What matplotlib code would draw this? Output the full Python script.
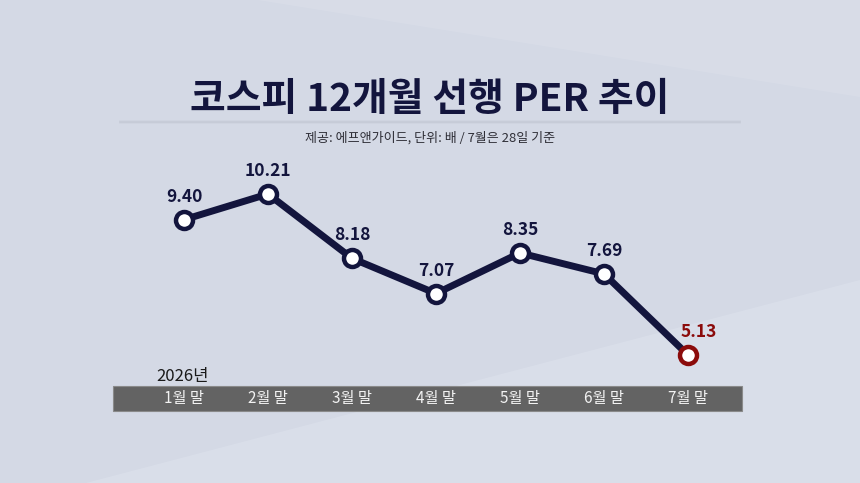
import matplotlib.pyplot as plt
from matplotlib.patches import Rectangle, Polygon

plt.rcParams['font.family'] = ['Noto Sans CJK KR', 'DejaVu Sans']

# data
months = ['1월 말', '2월 말', '3월 말', '4월 말', '5월 말', '6월 말', '7월 말']
per = [9.40, 10.21, 8.18, 7.07, 8.35, 7.69, 5.13]
year_label = '2026년'
title = '코스피 12개월 선행 PER 추이'
subtitle = '제공: 에프앤가이드, 단위: 배 / 7월은 28일 기준'

navy = '#13153d'
red = '#8b0b0b'
bg = '#d4d9e5'

fig = plt.figure(figsize=(8.6, 4.83), dpi=100)
fig.patch.set_facecolor(bg)
ax = fig.add_axes([0, 0, 1, 1])
ax.set_facecolor(bg)

# axes mapped so points land where the reference has them
x = list(range(len(months)))
ax.set_xlim(-184 / 84, 6 + 172 / 84)
ax.set_ylim(10.21 - 289 / 31.7, 10.21 + 194 / 31.7)
ax.axis('off')

# faint background streaks
ax.add_patch(Polygon([[0.3, 1.0], [1, 1.0], [1, 0.80]], closed=True,
                     transform=ax.transAxes, color='#dbdfea', alpha=0.6, lw=0, zorder=0))
ax.add_patch(Polygon([[0.1, 0.0], [1, 0.0], [1, 0.42]], closed=True,
                     transform=ax.transAxes, color='#dadfea', alpha=0.9, lw=0, zorder=0))

# title
fig.text(0.5, 1 - 100 / 483, title, ha='center', va='center', fontsize=28,
         fontweight='black', color=navy)
for k, a in enumerate([0.25, 0.5, 0.25]):
    ax.plot([0.14, 0.86], [1 - (121 + k) / 483] * 2, transform=ax.transAxes,
            color='#bcc1cd', lw=1.2, alpha=a, zorder=1)
fig.text(0.5, 1 - 138 / 483, subtitle, ha='center', va='center', fontsize=9.4,
         color='#2e2e36')

# line
ax.plot(x, per, color=navy, lw=5, zorder=3, solid_capstyle='round')
ax.scatter(x[:-1], per[:-1], s=150, facecolor='white', edgecolor=navy,
           linewidth=3.2, zorder=4)
ax.scatter(x[-1:], per[-1:], s=150, facecolor='white', edgecolor=red,
           linewidth=3.2, zorder=4)

for i, v in enumerate(per):
    if i == len(per) - 1:
        ax.annotate(f'{v:.2f}', (i, v), xytext=(8, 10), textcoords='offset points',
                    ha='center', va='bottom', fontsize=12.5, fontweight='bold', color=red)
    else:
        ax.annotate(f'{v:.2f}', (i, v), xytext=(0, 10), textcoords='offset points',
                    ha='center', va='bottom', fontsize=12.5, fontweight='bold', color=navy)

# month bar
ax.add_patch(Rectangle((113 / 860, 1 - 411 / 483), (742 - 113) / 860, 25 / 483,
                       transform=ax.transAxes, facecolor='#636363',
                       edgecolor='#8a8a8a', lw=0.8, zorder=2))
for i, m in enumerate(months):
    ax.text(i, 1 - 399 / 483, m, transform=ax.get_xaxis_transform(),
            ha='center', va='center', fontsize=11, color='#f2f2f2', zorder=3)
ax.text(156 / 860, 1 - 376 / 483, year_label, transform=ax.transAxes,
        ha='left', va='center', fontsize=12, color='#1a1a1a')

fig.savefig('out.png', dpi=100, facecolor=bg)
